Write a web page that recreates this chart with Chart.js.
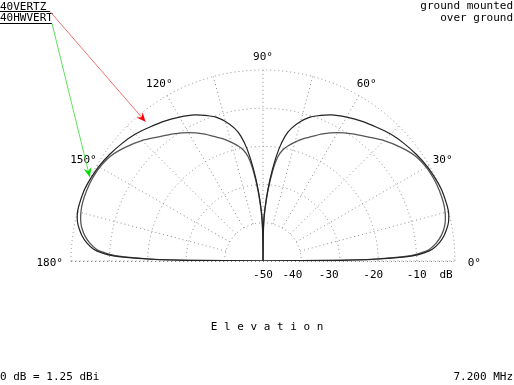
<!DOCTYPE html>
<html>
<head>
<meta charset="utf-8">
<script src="https://cdn.jsdelivr.net/npm/chart.js"></script>
<style>
  html, body { margin: 0; padding: 0; background: #fff; }
  canvas { display: block; }
</style>
</head>
<body>
<canvas id="chart" width="514" height="385"></canvas>
<script>
// elevation angle above horizon (deg), pattern is symmetric about 90
const elevations = [0, 0.5, 1, 2, 3, 4, 6, 8, 10, 12, 15, 18, 22, 26, 30, 35, 40, 45, 50, 55, 60, 65, 70, 72, 75, 78, 80, 82, 84, 86, 88, 89, 89.5, 90];
// relative gain in dB
const vertzDb = [-50, -30, -20, -11, -7.8, -5.8, -3.8, -2.4, -1.4, -0.6, 0, 0.1, 0.1, -0.2, -0.6, -1.3, -2.1, -3.0, -4.2, -5.3, -6.5, -7.8, -9.6, -10.4, -12.2, -14.5, -16.8, -20.5, -25.5, -31, -36.5, -40, -44, -50];
const hwvertDb = [-50, -31, -21, -12, -8.8, -6.6, -4.6, -3.2, -2.2, -1.5, -0.9, -0.6, -0.5, -0.6, -0.9, -1.8, -3.5, -5.4, -7.6, -9.4, -11.2, -13.3, -15.6, -16.4, -17.8, -19.3, -20.5, -22.5, -26.5, -31.5, -37, -40.5, -44.5, -50];
const seriesNames = ["40VERTZ", "40HWVERT"];

const ringDb = [0, -10, -20, -30, -40];
const dbTickLabels = ["-50", "-40", "-30", "-20", "-10"];
const angleLabels = [0, 30, 60, 90, 120, 150, 180];
const dbMin = -50;

function toPoint(angleDeg, db) {
  const r = (db - dbMin) / (0 - dbMin);
  const a = angleDeg * Math.PI / 180;
  return { x: r * Math.cos(a), y: r * Math.sin(a) };
}

function patternPoints(dbs) {
  const pts = [];
  for (let i = 0; i < elevations.length; i++) pts.push(toPoint(elevations[i], dbs[i]));
  for (let i = elevations.length - 1; i >= 0; i--) pts.push(toPoint(180 - elevations[i], dbs[i]));
  return pts;
}

const FONT = '11px "DejaVu Sans Mono"';
const dbLabelNudge = [0, -9, -11, -5, 0];

const gridPlugin = {
  id: "grid",
  beforeDatasetsDraw(chart) {
    const ctx = chart.ctx;
    const xs = chart.scales.x, ys = chart.scales.y;
    const cx = xs.getPixelForValue(0), cy = ys.getPixelForValue(0);
    const rx = xs.getPixelForValue(1) - cx, ry = cy - ys.getPixelForValue(1);
    ctx.save();
    ctx.lineWidth = 1;
    ctx.setLineDash([1, 3]);
    ctx.strokeStyle = "#8a8a8a";
    ringDb.forEach(db => {
      const r = (db - dbMin) / -dbMin;
      ctx.beginPath();
      ctx.ellipse(cx, cy, rx * r, ry * r, 0, Math.PI, 2 * Math.PI);
      ctx.stroke();
    });
    for (let a = 0; a <= 180; a += 15) {
      const p = toPoint(a, 0);
      const q = toPoint(a, -40);
      ctx.beginPath();
      ctx.moveTo(xs.getPixelForValue(q.x), ys.getPixelForValue(q.y));
      ctx.lineTo(xs.getPixelForValue(p.x), ys.getPixelForValue(p.y));
      ctx.stroke();
    }
    ctx.beginPath();
    ctx.moveTo(xs.getPixelForValue(-1), cy + 0.5);
    ctx.lineTo(xs.getPixelForValue(1), cy + 0.5);
    ctx.stroke();
    ctx.setLineDash([]);
    ctx.strokeStyle = "#777";
    ctx.beginPath();
    ctx.moveTo(cx + 0.5, cy);
    ctx.lineTo(cx + 0.5, cy - ry * 0.2);
    ctx.stroke();
    ctx.restore();
  }
};

function arrow(ctx, x0, y0, x1, y1, lineColor, headColor) {
  ctx.strokeStyle = lineColor;
  ctx.fillStyle = headColor;
  ctx.lineWidth = 1;
  ctx.beginPath();
  ctx.moveTo(x0, y0);
  ctx.lineTo(x1, y1);
  ctx.stroke();
  const ang = Math.atan2(y1 - y0, x1 - x0);
  const len = 10, w = 0.42;
  ctx.beginPath();
  ctx.moveTo(x1, y1);
  ctx.lineTo(x1 - len * Math.cos(ang - w), y1 - len * Math.sin(ang - w));
  ctx.lineTo(x1 - len * 0.6 * Math.cos(ang), y1 - len * 0.6 * Math.sin(ang));
  ctx.lineTo(x1 - len * Math.cos(ang + w), y1 - len * Math.sin(ang + w));
  ctx.closePath();
  ctx.fill();
}

const labelPlugin = {
  id: "labels",
  afterDraw(chart) {
    const ctx = chart.ctx;
    const xs = chart.scales.x, ys = chart.scales.y;
    const cy = ys.getPixelForValue(0);
    ctx.save();
    ctx.font = FONT;
    ctx.fillStyle = "#000";
    ctx.textBaseline = "middle";
    ctx.textAlign = "center";

    angleLabels.forEach(a => {
      const rad = a * Math.PI / 180;
      const px = xs.getPixelForValue(1.08 * Math.cos(rad));
      const py = ys.getPixelForValue(1.08 * Math.sin(rad));
      let dx = 0;
      if (a === 0) dx = 4;
      if (a === 180) dx = -6;
      ctx.fillText(a + "\u00b0", px + dx, py + 2);
    });

    dbTickLabels.forEach((t, i) => {
      const v = (-50 + 10 * i - dbMin) / -dbMin;
      ctx.fillText(t, xs.getPixelForValue(v) + dbLabelNudge[i], cy + 14);
    });
    ctx.fillText("dB", xs.getPixelForValue(1) - 9, cy + 14);

    ctx.fillText("E l e v a t i o n", 267, 327);

    ctx.textAlign = "left";
    ctx.fillText("0 dB = 1.25 dBi", 0, 377);
    ctx.textAlign = "right";
    ctx.fillText("7.200 MHz", 513, 377);
    ctx.fillText("ground mounted", 513, 6);
    ctx.fillText("over ground", 513, 18);

    // legend with pointers
    ctx.textAlign = "left";
    ctx.fillText(seriesNames[0], 0, 7);
    ctx.fillText(seriesNames[1], 0, 18);
    ctx.strokeStyle = "#000";
    ctx.lineWidth = 1;
    ctx.beginPath();
    ctx.moveTo(0, 11.5); ctx.lineTo(50, 11.5);
    ctx.moveTo(0, 23.5); ctx.lineTo(52, 23.5);
    ctx.stroke();

    const iV = elevations.indexOf(50);
    const tV = toPoint(180 - elevations[iV], vertzDb[iV] + 1.8);
    arrow(ctx, 50, 11.5, xs.getPixelForValue(tV.x), ys.getPixelForValue(tV.y), "#f07070", "#ff0000");
    const iH = elevations.indexOf(26);
    const tH = toPoint(180 - elevations[iH], hwvertDb[iH] + 0.8);
    arrow(ctx, 52, 23.5, xs.getPixelForValue(tH.x), ys.getPixelForValue(tH.y), "#60e060", "#00dd00");
    ctx.restore();
  }
};

new Chart(document.getElementById("chart").getContext("2d"), {
  type: "scatter",
  data: {
    datasets: [
      {
        label: seriesNames[0],
        data: patternPoints(vertzDb),
        showLine: true,
        borderColor: "#222",
        borderWidth: 1.2,
        pointRadius: 0,
        tension: 0.2,
      },
      {
        label: seriesNames[1],
        data: patternPoints(hwvertDb),
        showLine: true,
        borderColor: "#555",
        borderWidth: 1.3,
        pointRadius: 0,
        tension: 0.2,
      },
    ],
  },
  options: {
    responsive: false,
    animation: false,
    layout: { padding: { left: 71, right: 59, top: 70, bottom: 124 } },
    scales: {
      x: { type: "linear", min: -1, max: 1, display: false },
      y: { type: "linear", min: 0, max: 1, display: false },
    },
    plugins: {
      legend: { display: false },
      tooltip: { enabled: false },
    },
  },
  plugins: [gridPlugin, labelPlugin],
});
</script>
</body>
</html>
